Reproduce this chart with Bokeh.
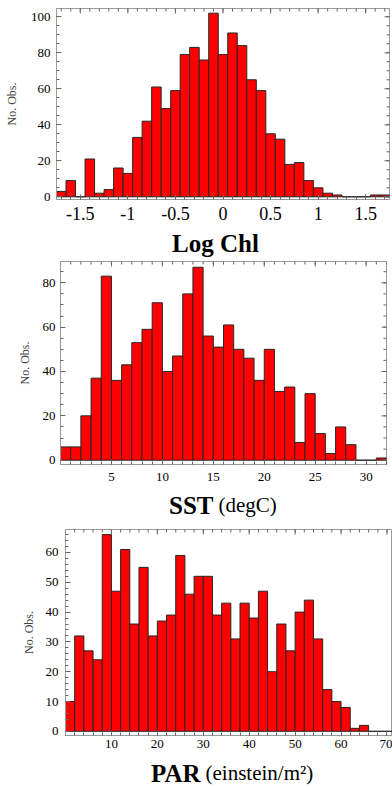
import math
from bokeh.plotting import figure
from bokeh.models import Range1d, FixedTicker
from bokeh.core.properties import value
from bokeh.embed import file_html
from bokeh.resources import INLINE

# ---------------- data ----------------
chl_bin_start = -1.75
chl_bin_width = 0.1
chl_counts = [3, 9, 0, 21, 2, 4, 16, 13, 33, 42, 61, 49, 59, 79, 83, 76, 102, 79,
              91, 84, 65, 59, 35, 32, 18, 19, 9, 5, 2, 1, 0, 0, 0, 1, 1]
chl_xticks = [-1.5, -1.0, -0.5, 0.0, 0.5, 1.0, 1.5]
chl_xtick_labels = ["-1.5", "-1", "-0.5", "0", "0.5", "1", "1.5"]
chl_yticks = [0, 20, 40, 60, 80, 100]

sst_bin_start = 0
sst_bin_width = 1
sst_counts = [6, 6, 20, 37, 83, 36, 43, 53, 59, 71, 40, 47, 75, 87, 56, 51, 61, 50,
              46, 36, 50, 31, 33, 8, 30, 12, 3, 15, 7, 0, 0, 1]
sst_xticks = [5, 10, 15, 20, 25, 30]
sst_yticks = [0, 20, 40, 60, 80]

par_bin_start = 0
par_bin_width = 2
par_counts = [10, 32, 27, 24, 66, 47, 61, 36, 55, 32, 37, 39, 59, 46, 52, 52, 39, 43,
              31, 43, 38, 47, 20, 36, 27, 40, 44, 31, 14, 10, 8, 1, 2, 0, 0, 0]
par_xticks = [10, 20, 30, 40, 50, 60, 70]
par_yticks = [0, 10, 20, 30, 40, 50, 60]

ylabel_text = "No. Obs."
titles = [("Log Chl", ""), ("SST", "(degC)"), ("PAR", "(einstein/m²)")]
# --------------------------------------

SERIF = "Liberation Serif"
FRAME = "#9a9a9a"
TICK = "#666666"
PAGE_W = 392


def frange(a, b, step):
    out = []
    v = a
    while v <= b + 1e-9:
        out.append(round(v, 6))
        v += step
    return out


def style_axis(ax, ticks, minor, fs, standoff, labels=None):
    ax.ticker = FixedTicker(ticks=ticks, minor_ticks=minor)
    ax.major_tick_in = 5
    ax.major_tick_out = 0
    ax.minor_tick_in = 3
    ax.minor_tick_out = 0
    ax.axis_line_color = FRAME
    ax.major_tick_line_color = TICK
    ax.minor_tick_line_color = TICK
    ax.major_label_text_font = SERIF
    ax.major_label_text_color = "black"
    ax.major_label_text_font_size = fs
    ax.major_label_standoff = standoff
    if labels is not None:
        ax.major_label_overrides = {t: l for t, l in zip(ticks, labels)}


def make_panel(counts, start, width, xr, yr, xticks, xminor, yticks, yminor,
               fw, fh, bl, br, bt, bb, xfs, yfs, xstand, ystand, lstand, xlabels=None,
               right_ticks=True):
    lefts = [start + i * width for i in range(len(counts))]
    rights = [l + width for l in lefts]
    p = figure(width=bl + fw + br, height=bt + fh + bb, frame_width=fw, frame_height=fh,
               x_range=Range1d(*xr), y_range=Range1d(*yr),
               output_backend="svg", toolbar_location=None, title=None,
               min_border_left=bl, min_border_right=br, min_border_top=bt,
               min_border_bottom=bb)
    p.grid.visible = False
    p.outline_line_color = FRAME
    p.outline_line_width = 1
    p.background_fill_color = "white"
    p.border_fill_color = "white"
    p.quad(left=lefts, right=rights, top=counts, bottom=0,
           fill_color="#ff0000", line_color="#262626", line_width=1)

    style_axis(p.xaxis[0], xticks, xminor, xfs, xstand, labels=xlabels)
    style_axis(p.yaxis[0], yticks, yminor, yfs, ystand)
    p.yaxis[0].axis_label = ylabel_text
    p.yaxis[0].axis_label_text_font = SERIF
    p.yaxis[0].axis_label_text_font_style = "normal"
    p.yaxis[0].axis_label_text_font_size = "12px"
    p.yaxis[0].axis_label_standoff = lstand

    # mirrored frame ticks on top (and right): half of each dash is clipped by the frame
    p.scatter(x=xticks, y=[yr[1]] * len(xticks), marker="dash", size=10,
              angle=math.pi / 2, line_color=TICK, line_width=1)
    p.scatter(x=xminor, y=[yr[1]] * len(xminor), marker="dash", size=6,
              angle=math.pi / 2, line_color=TICK, line_width=1)
    if right_ticks:
        p.scatter(x=[xr[1]] * len(yticks), y=yticks, marker="dash", size=10,
                  line_color=TICK, line_width=1)
        p.scatter(x=[xr[1]] * len(yminor), y=yminor, marker="dash", size=6,
                  line_color=TICK, line_width=1)
    return p


def title_fig(bold, normal, height, bx, nx, baseline):
    t = figure(width=PAGE_W, height=height, frame_width=PAGE_W, frame_height=height,
               x_range=Range1d(0, PAGE_W), y_range=Range1d(height, 0),
               output_backend="svg", toolbar_location=None, title=None,
               min_border=0, min_border_left=0, min_border_right=0,
               min_border_top=0, min_border_bottom=0,
               x_axis_location=None, y_axis_location=None)
    t.grid.visible = False
    t.outline_line_color = None
    t.background_fill_color = "white"
    t.border_fill_color = "white"
    t.text(x=[bx], y=[baseline], text=[bold], text_font=value(SERIF),
           text_font_style="bold", text_font_size="25px",
           text_align="center" if not normal else "right",
           text_baseline="alphabetic", text_color="black")
    if normal:
        t.text(x=[nx], y=[baseline], text=[normal], text_font=value(SERIF),
               text_font_style="normal", text_font_size="21px", text_align="left",
               text_baseline="alphabetic", text_color="black")
    return t


p1 = make_panel(chl_counts, chl_bin_start, chl_bin_width, (-1.75, 1.75), (-1.5, 104.6),
                chl_xticks, frange(-1.7, 1.7, 0.1), chl_yticks, frange(0, 100, 5),
                fw=333, fh=191, bl=56, br=3, bt=8, bb=27, xfs="18px", yfs="13px",
                xstand=7, ystand=6, lstand=9, xlabels=chl_xtick_labels)
t1 = title_fig(titles[0][0], titles[0][1], 31, 215, 0, 17)

p2 = make_panel(sst_counts, sst_bin_start, sst_bin_width, (0, 32), (-1.94, 89.6),
                sst_xticks, frange(0, 32, 1), sst_yticks, frange(0, 85, 5),
                fw=326, fh=203, bl=60, br=6, bt=4, bb=23, xfs="13px", yfs="13px",
                xstand=8, ystand=5, lstand=8)
t2 = title_fig(titles[1][0], titles[1][1], 37, 213, 218, 17.5)

p3 = make_panel(par_counts, par_bin_start, par_bin_width, (0, 71.2), (-1.4, 67.7),
                par_xticks, frange(0, 70, 2), par_yticks, frange(0, 66, 2),
                fw=327, fh=206, bl=65, br=0, bt=5, bb=19, xfs="13px", yfs="13px",
                xstand=4, ystand=7, lstand=7, right_ticks=False)
t3 = title_fig(titles[2][0], titles[2][1], 33, 200, 205, 18.5)

# separate roots, stacked top to bottom, so that no frame alignment is applied
open("out.html", "w").write(file_html([p1, t1, p2, t2, p3, t3], INLINE))
